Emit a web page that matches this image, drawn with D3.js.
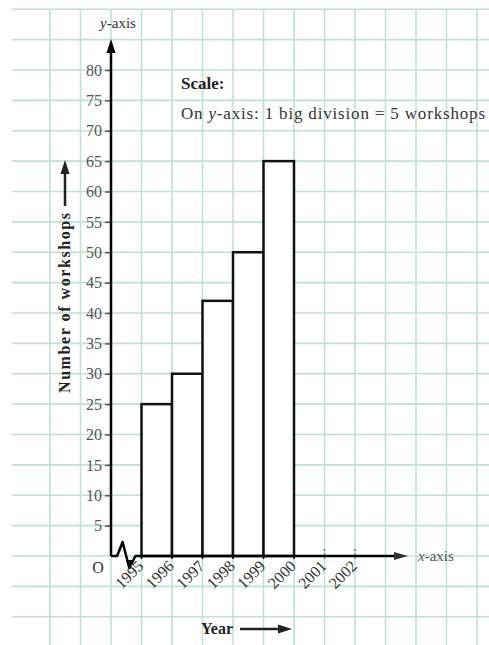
<!DOCTYPE html>
<html>
<head>
<meta charset="utf-8">
<script src="https://cdn.jsdelivr.net/npm/d3@7"></script>
<style>
  html, body { margin: 0; padding: 0; background: #fff; }
  svg { display: block; font-family: "Liberation Serif", "Times New Roman", serif; }
</style>
</head>
<body>
<svg id="chart" width="489" height="645"></svg>
<script>
// ---- data ----
const years = [1995, 1996, 1997, 1998, 1999];
const workshops = [25, 30, 42, 50, 65];
const yTickValues = [5, 10, 15, 20, 25, 30, 35, 40, 45, 50, 55, 60, 65, 70, 75, 80];
const xTickYears = [1995, 1996, 1997, 1998, 1999, 2000, 2001, 2002];
const xTickLabels = ["1995", "1996", "1997", "1998", "1999", "2000", "2001", "2002"];
const titleText = "Scale:";
const scaleText = ["On ", "y", "-axis: 1 big division = 5 workshops"];
const yAxisTitle = "Number of workshops";
const xAxisTitle = "Year";

const svg = d3.select("#chart");
const W = 489, H = 645;

// scales (one grid cell = one year = 5 workshops)
const x = d3.scaleLinear().domain([1994, 2002]).range([111, 355]);
const y = d3.scaleLinear().domain([0, 80]).range([556, 70]);

// ---- graph-paper grid ----
const gridColor = "#bfe0d4";
const grid = svg.append("g");
grid.selectAll("line.v").data(d3.range(1992, 2007)).join("line")
  .attr("x1", d => x(d)).attr("x2", d => x(d))
  .attr("y1", y(90)).attr("y2", H)
  .attr("stroke", gridColor).attr("stroke-width", 1.6);
grid.selectAll("line.h").data(d3.range(-15, 95, 5)).join("line")
  .attr("x1", 12).attr("x2", W)
  .attr("y1", d => y(d)).attr("y2", d => y(d))
  .attr("stroke", gridColor).attr("stroke-width", 1.6);

// ---- bars ----
svg.append("g").selectAll("rect").data(years).join("rect")
  .attr("x", d => x(d))
  .attr("y", (d, i) => y(workshops[i]))
  .attr("width", d => x(d + 1) - x(d))
  .attr("height", (d, i) => y(0) - y(workshops[i]))
  .attr("fill", "#fff")
  .attr("stroke", "#111")
  .attr("stroke-width", 2.5);

// ---- y axis ----
const yAxis = d3.axisLeft(y).tickValues(yTickValues).tickSize(6).tickPadding(3);
const gy = svg.append("g").attr("transform", `translate(${x(1994)},0)`).call(yAxis);
gy.select(".domain").remove();
gy.selectAll(".tick line").attr("stroke", "#555").attr("stroke-width", 1.5);
gy.selectAll(".tick text")
  .attr("font-family", "Liberation Serif, serif")
  .attr("font-size", 16).attr("fill", "#555");

// y axis line + arrow
svg.append("line")
  .attr("x1", x(1994)).attr("x2", x(1994))
  .attr("y1", y(0)).attr("y2", 48)
  .attr("stroke", "#000").attr("stroke-width", 2.5);
svg.append("path")
  .attr("d", `M${x(1994)},39 L${x(1994) - 4.5},53 L${x(1994) + 4.5},53 Z`)
  .attr("fill", "#000");

// y-axis label at top
const yl = svg.append("text").attr("x", 118).attr("y", 28)
  .attr("text-anchor", "middle").attr("font-size", 15).attr("fill", "#333");
yl.append("tspan").attr("font-style", "italic").text("y");
yl.append("tspan").text("-axis");

// ---- x axis ----
const xEnd = 395;
// axis with break mark between origin and 1995
const x0 = x(1994), x1 = x(1995), cy = y(0);
const w = x1 - x0;
svg.append("path")
  .attr("d", `M${x0},${cy} L${x0 + w * 0.2},${cy} L${x0 + w * 0.38},${cy - 14} L${x0 + w * 0.6},${cy + 12} L${x0 + w * 0.8},${cy} L${xEnd},${cy}`)
  .attr("fill", "none").attr("stroke", "#000").attr("stroke-width", 2.5)
  .attr("stroke-linejoin", "round");
svg.append("path")
  .attr("d", `M${x0 + w * 0.5},${cy + 4} L${x0 + w * 0.72},${cy + 4} L${x0 + w * 0.6},${cy + 12} Z`)
  .attr("fill", "#000");
// arrow on x axis
svg.append("path")
  .attr("d", `M${xEnd + 13},${cy} L${xEnd - 1},${cy - 4} L${xEnd - 1},${cy + 4} Z`)
  .attr("fill", "#333");

// x ticks
svg.append("g").selectAll("line").data(xTickYears).join("line")
  .attr("x1", d => x(d)).attr("x2", d => x(d))
  .attr("y1", d => d > 2000 ? cy - 7 : cy - 2).attr("y2", cy + 3)
  .attr("stroke", d => d > 2000 ? "#777" : "#000")
  .attr("stroke-width", 1.5)
  .attr("stroke-dasharray", d => d > 2000 ? "2,2" : null);

// x tick labels, rotated
svg.append("g").selectAll("text").data(xTickYears).join("text")
  .attr("transform", d => `translate(${x(d) + 3},${cy + 11}) rotate(-45)`)
  .attr("text-anchor", "end")
  .attr("font-size", 16).attr("fill", "#333")
  .text((d, i) => xTickLabels[i]);

// origin
svg.append("text").attr("x", 98).attr("y", 573)
  .attr("text-anchor", "middle").attr("font-size", 16).attr("fill", "#333").text("O");

// x-axis label
const xl = svg.append("text").attr("x", 418).attr("y", 561)
  .attr("font-size", 15).attr("fill", "#555");
xl.append("tspan").attr("font-style", "italic").text("x");
xl.append("tspan").text("-axis");

// ---- axis titles with arrows ----
svg.append("text")
  .attr("transform", `translate(70,${(213 + 393) / 2}) rotate(-90)`)
  .attr("text-anchor", "middle")
  .attr("font-size", 16).attr("font-weight", "bold").attr("fill", "#222")
  .attr("textLength", 180).attr("lengthAdjust", "spacing")
  .text(yAxisTitle);
svg.append("line").attr("x1", 65).attr("x2", 65).attr("y1", 206).attr("y2", 172)
  .attr("stroke", "#222").attr("stroke-width", 2.5);
svg.append("path").attr("d", "M65,160 L60.5,174 L69.5,174 Z").attr("fill", "#222");

svg.append("text").attr("x", 201).attr("y", 634)
  .attr("font-size", 16).attr("font-weight", "bold").attr("fill", "#222")
  .text(xAxisTitle);
svg.append("line").attr("x1", 240).attr("x2", 280).attr("y1", 629).attr("y2", 629)
  .attr("stroke", "#222").attr("stroke-width", 2.5);
svg.append("path").attr("d", "M292,629 L278,624.5 L278,633.5 Z").attr("fill", "#222");

// ---- scale note ----
svg.append("text").attr("x", 181).attr("y", 89)
  .attr("font-size", 17).attr("font-weight", "bold").attr("fill", "#222")
  .text(titleText);
const st = svg.append("text").attr("x", 181).attr("y", 119)
  .attr("font-size", 17).attr("fill", "#333")
  .attr("textLength", 304).attr("lengthAdjust", "spacing");
st.append("tspan").text(scaleText[0]);
st.append("tspan").attr("font-style", "italic").text(scaleText[1]);
st.append("tspan").text(scaleText[2]);
</script>
</body>
</html>
